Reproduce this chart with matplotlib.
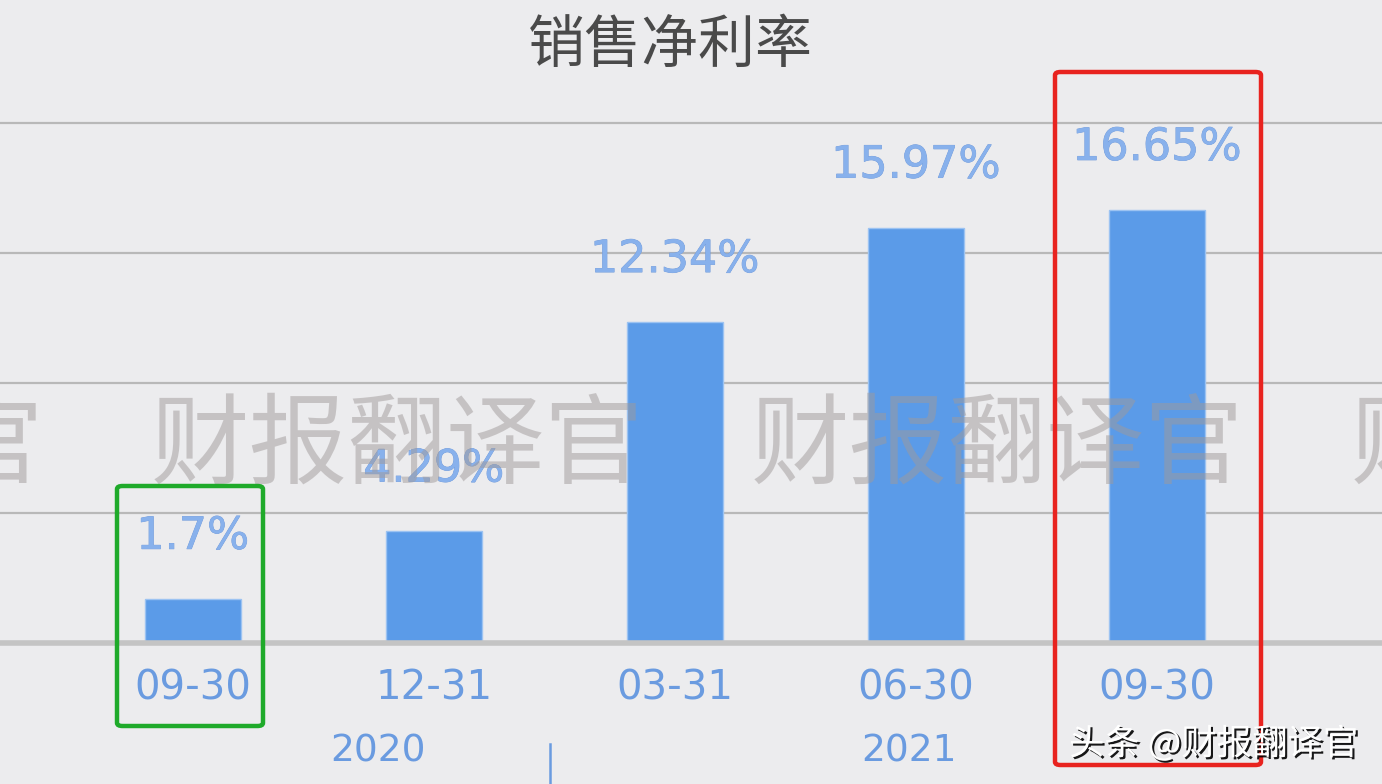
import matplotlib
matplotlib.use('agg')
import matplotlib.pyplot as plt
import matplotlib.patheffects as pe
from matplotlib.patches import FancyBboxPatch

plt.rcParams['font.family'] = ['Noto Sans CJK SC', 'DejaVu Sans']

# data
dates = ['09-30', '12-31', '03-31', '06-30', '09-30']
margin = [1.7, 4.29, 12.34, 15.97, 16.65]
labels = ['1.7%', '4.29%', '12.34%', '15.97%', '16.65%']
years = ['2020', '2021']
year_pos = [0.77, 2.97]
year_split = 1.48

W, H = 1382, 784
bg = '#ececee'
bar_col = '#5b9be8'
lab_col = '#88b1ec'
tick_col = '#6a9be0'

fig = plt.figure(figsize=(W / 100, H / 100), dpi=100, facecolor=bg)
ax = fig.add_axes([0, 0, 1, 1])
ax.set_facecolor(bg)

x = list(range(len(dates)))
ax.set_xlim(-0.80, 4.934)
ax.set_ylim(-5.42, 24.72)

# grid lines
for g in [5, 10, 15, 20]:
    ax.axhline(g, color='#b8b8b8', lw=1.6, zorder=1)
ax.axhline(0, color='#c4c4c4', lw=4, zorder=3)

ax.bar(x, margin, width=0.40, color=bar_col, edgecolor='#9cc3f2', lw=1, zorder=2)

for xi, v, t in zip(x, margin, labels):
    ax.text(xi, v + 2.4, t, ha='center', va='center', fontsize=32, color=lab_col,
            family=['DejaVu Sans'], zorder=5,
            path_effects=[pe.withStroke(linewidth=0.5, foreground='#6f98d8')])

for xi, d in zip(x, dates):
    ax.text(xi, -1.73, d, ha='center', va='center', fontsize=29, color=tick_col,
            family=['DejaVu Sans'])
for xp, yr in zip(year_pos, years):
    ax.text(xp, -4.18, yr, ha='center', va='center', fontsize=27, color=tick_col,
            family=['DejaVu Sans'])
ax.plot([year_split, year_split], [-3.9, -5.42], color=tick_col, lw=1.8, clip_on=False)

for s in ax.spines.values():
    s.set_visible(False)
ax.set_xticks([])
ax.set_yticks([])

# title
fig.text(670 / W, 1 - 46 / H, '销售净利率', ha='center', va='center', fontsize=41, color='#4a4a4a')

# watermark
for cx in [-203, 397, 997, 1597]:
    fig.text(cx / W, 1 - 448 / H, '财报翻译官', ha='center', va='center', fontsize=71,
             color='#a09a9a', alpha=0.5, zorder=10)

# highlight boxes
def box(x0, y0, x1, y1, col):
    p = FancyBboxPatch((x0 / W, 1 - y1 / H), (x1 - x0) / W, (y1 - y0) / H,
                       boxstyle='round,pad=0,rounding_size=0.004', transform=fig.transFigure,
                       fill=False, edgecolor=col, lw=3.2, zorder=11)
    fig.add_artist(p)

box(1055, 72, 1261, 765, '#e8231f')
box(117, 486, 263, 726, '#1faa2a')

fig.text(1358 / W, 1 - 744 / H, '头条 @财报翻译官', ha='right', va='center', fontsize=25.5,
         color='white', weight='medium', zorder=12,
         path_effects=[pe.SimplePatchShadow(offset=(1.5, -1.5), shadow_rgbFace='black', alpha=0.9),
                       pe.Normal()])

plt.savefig('out.png', dpi=100, facecolor=bg)
plt.close()
